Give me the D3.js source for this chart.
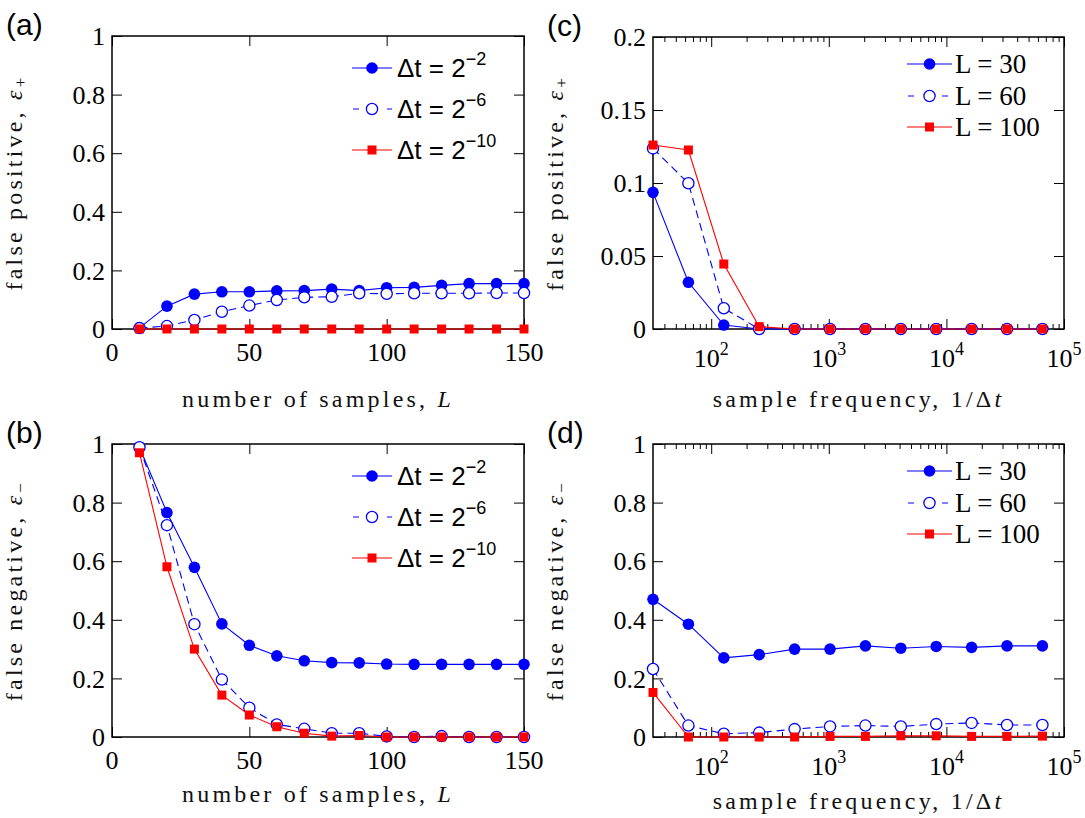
<!DOCTYPE html>
<html>
<head>
<meta charset="utf-8">
<script src="https://cdn.jsdelivr.net/npm/d3@7"></script>
<style>
  body { margin: 0; background: #fff; }
</style>
</head>
<body>
<svg id="fig" width="1085" height="818"></svg>
<script>
// ---- data ----
const samplesL = [10, 20, 30, 40, 50, 60, 70, 80, 90, 100, 110, 120, 130, 140, 150];
const fpDt2 = [0.004, 0.078, 0.119, 0.127, 0.127, 0.13, 0.131, 0.136, 0.131, 0.141, 0.142, 0.149, 0.155, 0.155, 0.155];
const fpDt6 = [0.003, 0.01, 0.031, 0.059, 0.08, 0.099, 0.108, 0.11, 0.122, 0.12, 0.122, 0.122, 0.122, 0.123, 0.123];
const fpDt10 = [0, 0, 0, 0, 0, 0, 0, 0, 0, 0, 0, 0, 0, 0, 0];
const fnDt2 = [0.989, 0.766, 0.579, 0.386, 0.313, 0.277, 0.26, 0.254, 0.253, 0.249, 0.248, 0.248, 0.248, 0.248, 0.248];
const fnDt6 = [0.989, 0.723, 0.385, 0.196, 0.1, 0.043, 0.028, 0.013, 0.013, 0.002, 0, 0.003, 0, 0, 0];
const fnDt10 = [0.97, 0.581, 0.3, 0.143, 0.075, 0.035, 0.013, 0.003, 0.005, 0, 0, 0, 0, 0, 0];

const freq = [32, 64, 128, 256, 512, 1024, 2048, 4096, 8192, 16384, 32768, 65536];
const fpL30 = [0.0936, 0.032, 0.0027, 0, 0, 0, 0, 0, 0, 0, 0, 0];
const fpL60 = [0.1237, 0.0998, 0.0142, 0, 0, 0, 0, 0, 0, 0, 0, 0];
const fpL100 = [0.126, 0.1226, 0.0445, 0.0016, 0, 0, 0, 0, 0, 0, 0, 0];
const fnL30 = [0.47, 0.385, 0.27, 0.281, 0.3, 0.3, 0.311, 0.303, 0.309, 0.306, 0.311, 0.311];
const fnL60 = [0.232, 0.039, 0.011, 0.015, 0.027, 0.036, 0.039, 0.036, 0.044, 0.048, 0.041, 0.041];
const fnL100 = [0.152, 0, 0, 0, 0, 0.002, 0.002, 0.004, 0.004, 0.002, 0.002, 0.003];

const linTicksX = [0, 50, 100, 150];
const logTicksX = [100, 1000, 10000, 100000];
const ticksY1 = [0, 0.2, 0.4, 0.6, 0.8, 1];
const ticksY2 = [0, 0.05, 0.1, 0.15, 0.2];

const dtNames = ['\u2212' + '2', '\u2212' + '6', '\u2212' + '10'];
const lNames = ['L = 30', 'L = 60', 'L = 100'];

// ---- styles ----
const BLUE = '#0000ff', RED = '#ff0000';
const serif = '"Liberation Serif", "Times New Roman", serif';
const sans = '"Liberation Sans", Arial, sans-serif';
const styles = [
  { color: BLUE, marker: 'dot', dash: null },
  { color: BLUE, marker: 'ring', dash: '8,5' },
  { color: RED, marker: 'square', dash: null }
];

const svg = d3.select('#fig');

function drawMarker(g, kind, color, cx, cy) {
  if (kind === 'square') {
    g.append('rect').attr('x', cx - 4.5).attr('y', cy - 4.5)
      .attr('width', 9).attr('height', 9).attr('fill', color);
  } else if (kind === 'ring') {
    g.append('circle').attr('cx', cx).attr('cy', cy).attr('r', 5.6)
      .attr('fill', '#fff').attr('stroke', color).attr('stroke-width', 1.3);
  } else {
    g.append('circle').attr('cx', cx).attr('cy', cy).attr('r', 5.8).attr('fill', color);
  }
}

function panel(p) {
  const g = svg.append('g');
  const x = p.log
    ? d3.scaleLog().domain(p.xDomain).range([p.left, p.right])
    : d3.scaleLinear().domain(p.xDomain).range([p.left, p.right]);
  const y = d3.scaleLinear().domain(p.yDomain).range([p.bottom, p.top]);

  // ticks, all pointing inward on four sides
  let xMajor = p.xTicks, xMinor = [];
  if (p.log) {
    xMinor = x.ticks().filter(v => !logTicksX.includes(v));
  }
  const tickGroups = [
    { vals: xMajor, len: 10 }, { vals: xMinor, len: 5 }
  ];
  tickGroups.forEach(t => {
    g.append('g').attr('transform', `translate(0,${p.bottom})`)
      .call(d3.axisBottom(x).tickValues(t.vals).tickSize(-t.len).tickFormat(''))
      .call(a => a.select('.domain').remove());
    g.append('g').attr('transform', `translate(0,${p.top})`)
      .call(d3.axisTop(x).tickValues(t.vals).tickSize(-t.len).tickFormat(''))
      .call(a => a.select('.domain').remove());
  });
  g.append('g').attr('transform', `translate(${p.left},0)`)
    .call(d3.axisLeft(y).tickValues(p.yTicks).tickSize(-10).tickFormat(''))
    .call(a => a.select('.domain').remove());
  g.append('g').attr('transform', `translate(${p.right},0)`)
    .call(d3.axisRight(y).tickValues(p.yTicks).tickSize(-10).tickFormat(''))
    .call(a => a.select('.domain').remove());
  g.selectAll('.tick line').attr('stroke', '#000').attr('stroke-width', 1);

  g.append('rect')
    .attr('x', p.left).attr('y', p.top)
    .attr('width', p.right - p.left).attr('height', p.bottom - p.top)
    .attr('fill', 'none').attr('stroke', '#000').attr('stroke-width', 1.5);

  // tick labels
  g.selectAll('.ylab').data(p.yTicks).enter().append('text')
    .attr('x', p.left - 7).attr('y', d => y(d)).attr('dy', '0.35em')
    .attr('text-anchor', 'end').attr('font-family', serif).attr('font-size', 26)
    .text(d => d3.format('~g')(d));

  if (p.log) {
    const t = g.selectAll('.xlab').data(p.xTicks).enter().append('text')
      .attr('x', d => x(d)).attr('y', p.bottom + 38)
      .attr('text-anchor', 'middle').attr('font-family', serif).attr('font-size', 26);
    t.append('tspan').text('10');
    t.append('tspan').attr('dy', -12).attr('font-size', 18).text(d => Math.round(Math.log10(d)));
  } else {
    g.selectAll('.xlab').data(p.xTicks).enter().append('text')
      .attr('x', d => x(d)).attr('y', p.bottom + 32)
      .attr('text-anchor', 'middle').attr('font-family', serif).attr('font-size', 26)
      .text(d => d);
  }

  // axis titles
  const xt = g.append('text')
    .attr('x', (p.left + p.right) / 2).attr('y', p.xTitleY)
    .attr('text-anchor', 'middle').attr('font-family', serif).attr('font-size', 24)
    .attr('letter-spacing', 3.2).attr('fill', '#111');
  xt.append('tspan').text(p.xTitle);
  xt.append('tspan').attr('font-style', 'italic').text(p.xTitleVar);

  const yt = g.append('text')
    .attr('transform', `translate(${p.left - 90},${(p.top + p.bottom) / 2}) rotate(-90)`)
    .attr('text-anchor', 'middle').attr('font-family', serif).attr('font-size', 24)
    .attr('letter-spacing', 3.2).attr('fill', '#111');
  yt.append('tspan').text(p.yTitle);
  yt.append('tspan').attr('font-style', 'italic').text('\u03b5');
  yt.append('tspan').attr('font-size', 17).attr('dy', 4).text(p.ySub === '+' ? '+' : '\u2212');

  // panel letter
  g.append('text')
    .attr('x', p.left - 106).attr('y', p.top - 1)
    .attr('font-family', sans).attr('font-size', 30).text(p.letter);

  // series
  const line = d3.line().x(d => x(d[0])).y(d => y(d[1]));
  p.series.forEach((vals, i) => {
    const st = styles[i];
    const pts = p.xs.map((v, k) => [v, vals[k]]);
    g.append('path').datum(pts).attr('d', line)
      .attr('fill', 'none').attr('stroke', st.color).attr('stroke-width', 1.1)
      .attr('stroke-dasharray', st.dash);
    const mg = g.append('g');
    pts.forEach(d => drawMarker(mg, st.marker, st.color, x(d[0]), y(d[1])));
  });

  // legend
  const L = p.legend;
  p.names.forEach((name, i) => {
    const st = styles[i];
    const ry = p.top + L.rows[i];
    g.append('line').attr('x1', L.x0).attr('x2', L.x1).attr('y1', ry).attr('y2', ry)
      .attr('stroke', st.color).attr('stroke-width', 1.1)
      .attr('stroke-dasharray', st.dash ? '6,11' : null)
      .attr('stroke-dashoffset', st.dash ? -1 : null);
    drawMarker(g, st.marker, st.color, (L.x0 + L.x1) / 2, ry);
    const tx = g.append('text').attr('x', L.tx).attr('y', ry + 9)
      .attr('font-size', L.size).attr('font-family', L.font);
    if (L.dt) {
      tx.append('tspan').text('\u0394t = 2');
      tx.append('tspan').attr('dy', -12).attr('font-size', 18).text(name);
    } else {
      tx.text(name);
    }
  });
}

const legAB = { x0: 352, x1: 392, tx: 397, rows: [32, 73, 114], size: 26, font: sans, dt: true };
const legCD = { x0: 907, x1: 952, tx: 955, rows: [27, 59, 90], size: 27, font: serif, dt: false };

panel({
  letter: '(a)', left: 112, right: 524, top: 36, bottom: 329,
  xDomain: [0, 150], xTicks: linTicksX, yDomain: [0, 1], yTicks: ticksY1,
  xs: samplesL, series: [fpDt2, fpDt6, fpDt10], names: dtNames, legend: legAB,
  xTitle: 'number of samples, ', xTitleVar: 'L', xTitleY: 407,
  yTitle: 'false positive, ', ySub: '+'
});
panel({
  letter: '(b)', left: 112, right: 524, top: 444, bottom: 737,
  xDomain: [0, 150], xTicks: linTicksX, yDomain: [0, 1], yTicks: ticksY1,
  xs: samplesL, series: [fnDt2, fnDt6, fnDt10], names: dtNames, legend: legAB,
  xTitle: 'number of samples, ', xTitleVar: 'L', xTitleY: 802,
  yTitle: 'false negative, ', ySub: '-'
});
panel({
  letter: '(c)', log: true, left: 653, right: 1064, top: 37, bottom: 329,
  xDomain: [32, 100000], xTicks: logTicksX, yDomain: [0, 0.2], yTicks: ticksY2,
  xs: freq, series: [fpL30, fpL60, fpL100], names: lNames, legend: legCD,
  xTitle: 'sample frequency, 1/\u0394', xTitleVar: 't', xTitleY: 407,
  yTitle: 'false positive, ', ySub: '+'
});
panel({
  letter: '(d)', log: true, left: 653, right: 1064, top: 444, bottom: 737,
  xDomain: [32, 100000], xTicks: logTicksX, yDomain: [0, 1], yTicks: ticksY1,
  xs: freq, series: [fnL30, fnL60, fnL100], names: lNames, legend: legCD,
  xTitle: 'sample frequency, 1/\u0394', xTitleVar: 't', xTitleY: 809,
  yTitle: 'false negative, ', ySub: '-'
});
</script>
</body>
</html>
